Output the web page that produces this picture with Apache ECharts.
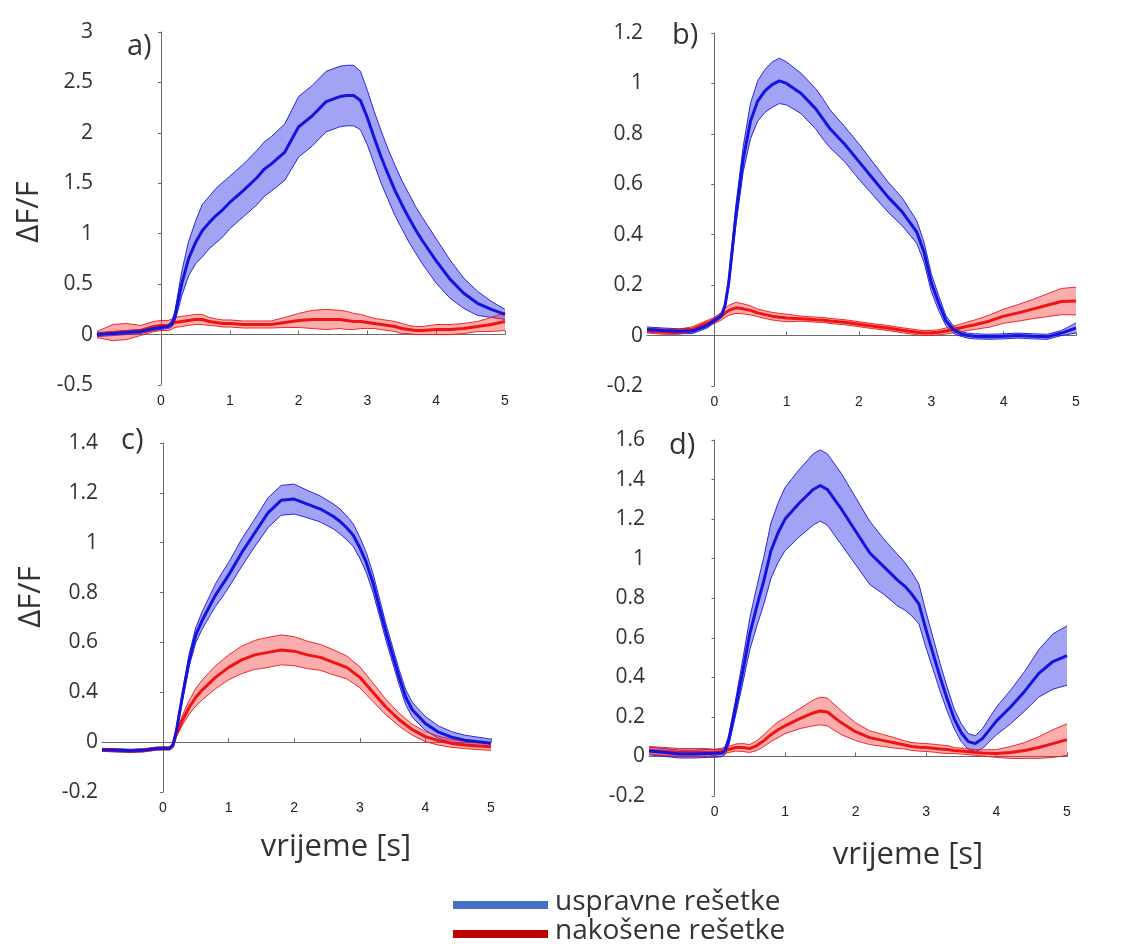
<!DOCTYPE html>
<html>
<head>
<meta charset="utf-8">
<script src="https://cdn.jsdelivr.net/npm/echarts@6/dist/echarts.min.js"></script>
<style>
html,body{margin:0;padding:0;background:#fff;}
#chart{width:1125px;height:944px;}
</style>
</head>
<body>
<div id="chart"></div>
<script>
// time samples [s]
const T = [-0.93,-0.7,-0.5,-0.3,-0.1,0,0.1,0.15,0.2,0.3,0.4,0.5,0.6,0.7,0.8,0.9,1.0,1.2,1.4,1.5,1.6,1.8,2.0,2.2,2.4,2.6,2.7,2.8,2.9,3.0,3.1,3.2,3.3,3.4,3.5,3.6,3.7,3.8,4.0,4.2,4.4,4.6,4.8,5.0];
const xTicks = [0,1,2,3,4,5];

// panel a
const aBlueMean = [0.0,0.01,0.02,0.03,0.06,0.07,0.08,0.1,0.17,0.5,0.75,0.91,1.03,1.11,1.18,1.24,1.31,1.43,1.56,1.64,1.69,1.81,2.06,2.17,2.31,2.36,2.37,2.37,2.32,2.15,1.95,1.76,1.59,1.43,1.29,1.16,1.04,0.93,0.73,0.55,0.41,0.31,0.25,0.2];
const aBlueErr  = [0.02,0.02,0.02,0.02,0.02,0.02,0.02,0.03,0.05,0.12,0.17,0.21,0.26,0.26,0.27,0.27,0.26,0.26,0.27,0.27,0.27,0.28,0.3,0.3,0.3,0.3,0.3,0.3,0.29,0.27,0.26,0.26,0.25,0.25,0.24,0.24,0.23,0.23,0.22,0.19,0.15,0.12,0.08,0.05];
const aRedMean  = [0.0,0.02,0.03,0.04,0.08,0.09,0.09,0.1,0.12,0.13,0.14,0.15,0.15,0.13,0.12,0.11,0.11,0.1,0.1,0.1,0.1,0.12,0.14,0.15,0.15,0.15,0.14,0.13,0.13,0.12,0.11,0.1,0.09,0.08,0.06,0.05,0.04,0.04,0.05,0.05,0.06,0.08,0.1,0.13];
const aRedErr   = [0.03,0.08,0.08,0.05,0.05,0.05,0.05,0.05,0.05,0.05,0.05,0.05,0.05,0.04,0.035,0.035,0.035,0.035,0.035,0.035,0.035,0.05,0.07,0.09,0.1,0.09,0.09,0.08,0.07,0.06,0.05,0.05,0.05,0.05,0.05,0.04,0.04,0.04,0.05,0.05,0.05,0.05,0.07,0.09];

// panel b
const bBlueMean = [0.024,0.02,0.017,0.018,0.04,0.06,0.08,0.12,0.21,0.48,0.7,0.85,0.93,0.97,0.995,1.01,1.0,0.96,0.9,0.86,0.82,0.76,0.69,0.62,0.55,0.49,0.45,0.41,0.33,0.21,0.13,0.06,0.025,0.008,0.0,-0.003,-0.004,-0.005,-0.003,0.0,-0.003,-0.005,0.01,0.03];
const bBlueErr  = [0.01,0.01,0.01,0.01,0.01,0.01,0.01,0.01,0.02,0.04,0.05,0.07,0.08,0.085,0.09,0.09,0.085,0.08,0.08,0.08,0.075,0.07,0.07,0.065,0.06,0.055,0.05,0.045,0.04,0.035,0.03,0.02,0.015,0.01,0.01,0.01,0.01,0.01,0.01,0.01,0.01,0.01,0.01,0.02];
const bRedMean  = [0.02,0.015,0.015,0.025,0.05,0.06,0.077,0.09,0.1,0.11,0.106,0.1,0.09,0.083,0.077,0.073,0.07,0.067,0.063,0.062,0.058,0.053,0.045,0.037,0.03,0.021,0.017,0.013,0.01,0.011,0.013,0.018,0.024,0.03,0.037,0.043,0.05,0.057,0.077,0.09,0.105,0.12,0.135,0.137];
const bRedErr   = [0.01,0.01,0.01,0.01,0.01,0.012,0.015,0.018,0.02,0.022,0.02,0.018,0.015,0.015,0.015,0.015,0.015,0.01,0.01,0.01,0.01,0.01,0.01,0.01,0.01,0.01,0.01,0.01,0.01,0.01,0.01,0.012,0.013,0.015,0.017,0.019,0.021,0.024,0.028,0.033,0.038,0.045,0.052,0.055];

// panel c (axis tick labels as printed in the original figure)
const cTickLabels = ["-0.2","0","0.4","0.6","0.8","1","1.2","1.4"];
const cBlueMean = [-0.031,-0.033,-0.035,-0.033,-0.026,-0.025,-0.025,-0.012,0.04,0.19,0.33,0.43,0.49,0.54,0.59,0.63,0.67,0.76,0.84,0.88,0.92,0.97,0.975,0.955,0.935,0.905,0.885,0.86,0.83,0.78,0.72,0.64,0.54,0.44,0.35,0.26,0.18,0.13,0.075,0.04,0.02,0.008,0.002,-0.004];
const cBlueErr  = [0.006,0.006,0.006,0.006,0.006,0.006,0.006,0.008,0.012,0.02,0.025,0.03,0.035,0.04,0.045,0.05,0.05,0.055,0.055,0.058,0.06,0.06,0.06,0.055,0.052,0.05,0.05,0.048,0.045,0.042,0.04,0.038,0.035,0.033,0.032,0.03,0.03,0.03,0.028,0.025,0.022,0.02,0.018,0.016];
const cRedMean  = [-0.031,-0.033,-0.035,-0.033,-0.026,-0.025,-0.025,-0.015,0.03,0.09,0.14,0.18,0.21,0.235,0.26,0.28,0.3,0.33,0.35,0.355,0.36,0.37,0.365,0.35,0.34,0.32,0.31,0.3,0.28,0.26,0.23,0.2,0.17,0.14,0.115,0.09,0.07,0.05,0.022,0.006,-0.005,-0.011,-0.015,-0.018];
const cRedErr   = [0.006,0.006,0.006,0.006,0.006,0.006,0.006,0.008,0.01,0.02,0.028,0.035,0.04,0.043,0.046,0.048,0.05,0.055,0.058,0.06,0.06,0.06,0.058,0.055,0.052,0.05,0.048,0.046,0.044,0.042,0.04,0.037,0.034,0.031,0.028,0.026,0.024,0.022,0.02,0.018,0.016,0.015,0.015,0.015];

// panel d
const dBlueMean = [0.028,0.02,0.012,0.012,0.015,0.016,0.018,0.03,0.08,0.25,0.43,0.62,0.76,0.89,1.04,1.13,1.2,1.28,1.35,1.37,1.35,1.25,1.14,1.03,0.96,0.89,0.86,0.82,0.77,0.64,0.52,0.4,0.29,0.19,0.12,0.075,0.065,0.09,0.18,0.25,0.33,0.42,0.48,0.51];
const dBlueErr  = [0.02,0.02,0.02,0.02,0.02,0.02,0.02,0.02,0.025,0.04,0.06,0.08,0.1,0.12,0.14,0.15,0.16,0.17,0.18,0.18,0.18,0.18,0.17,0.16,0.14,0.13,0.12,0.11,0.1,0.09,0.08,0.07,0.06,0.05,0.045,0.04,0.04,0.05,0.07,0.085,0.1,0.12,0.14,0.15];
const dRedMean  = [0.03,0.025,0.02,0.02,0.02,0.02,0.025,0.03,0.035,0.045,0.045,0.04,0.055,0.08,0.11,0.135,0.155,0.19,0.22,0.23,0.225,0.17,0.125,0.095,0.08,0.065,0.058,0.05,0.047,0.045,0.042,0.038,0.035,0.03,0.027,0.024,0.02,0.018,0.015,0.02,0.03,0.045,0.065,0.085];
const dRedErr   = [0.02,0.02,0.02,0.02,0.02,0.015,0.015,0.015,0.015,0.018,0.02,0.02,0.025,0.03,0.035,0.04,0.04,0.05,0.065,0.07,0.07,0.06,0.045,0.035,0.03,0.025,0.02,0.02,0.02,0.02,0.02,0.02,0.02,0.015,0.015,0.015,0.015,0.015,0.02,0.03,0.04,0.055,0.07,0.08];

const BLUE = '#1414dc', BLUE_FILL = 'rgba(50,50,235,0.45)';
const RED = '#ee1414', RED_FILL = 'rgba(245,50,50,0.40)';

function band(gi, mean, err, line, fill, z) {
  const lo = T.map((t, i) => +(mean[i] - err[i]).toFixed(4));
  const up = T.map((t, i) => +(mean[i] + err[i]).toFixed(4));
  const area = {
    type: 'custom', xAxisIndex: gi, yAxisIndex: gi, silent: true, z: z,
    data: T.map((t, i) => [t, lo[i], up[i]]),
    encode: { x: 0, y: [1, 2] },
    renderItem: function (params, api) {
      if (params.dataIndexInside !== 0) return null;
      const n = params.dataInsideLength;
      const pts = [];
      for (let k = 0; k < n; k++) pts.push(api.coord([api.value(0, k), api.value(2, k)]));
      for (let k = n - 1; k >= 0; k--) pts.push(api.coord([api.value(0, k), api.value(1, k)]));
      return { type: 'polygon', shape: { points: pts }, style: { fill: fill } };
    }
  };
  const edge = (arr) => ({
    type: 'line', xAxisIndex: gi, yAxisIndex: gi, data: T.map((t, i) => [t, arr[i]]),
    symbol: 'none', silent: true, z: z, lineStyle: { color: line, width: 0.9 }
  });
  return [area, edge(lo), edge(up)];
}
function meanLine(gi, mean, color, z) {
  return { type: 'line', xAxisIndex: gi, yAxisIndex: gi, data: T.map((t, i) => [t, mean[i]]),
    symbol: 'none', silent: true, z: z, lineStyle: { color: color, width: 3 } };
}

const grids = [
  { left: 97, top: 32, width: 408, height: 353 },
  { left: 647, top: 33, width: 429, height: 353 },
  { left: 102, top: 443, width: 389, height: 349 },
  { left: 649, top: 440, width: 418, height: 356 }
];
const yRanges = [
  { min: -0.5, max: 3, interval: 0.5 },
  { min: -0.2, max: 1.2, interval: 0.2 },
  { min: -0.2, max: 1.2, interval: 0.2 },
  { min: -0.2, max: 1.6, interval: 0.2 }
];

const axisLineStyle = { show: true, lineStyle: { color: '#6a6a6a', width: 1 } };
const xAxes = grids.map((g, i) => ({
  type: 'value', gridIndex: i, min: -0.93, max: 5,
  axisLine: axisLineStyle,
  axisTick: { show: true, inside: true, length: 4, customValues: xTicks, lineStyle: { color: '#6a6a6a' } },
  axisLabel: { customValues: xTicks, color: '#222', fontSize: 14, fontFamily: 'Liberation Sans', margin: 9 },
  splitLine: { show: false }
}));
const yAxes = yRanges.map((r, i) => ({
  type: 'value', gridIndex: i, min: r.min, max: r.max, interval: r.interval,
  axisLine: axisLineStyle,
  axisTick: { show: true, length: 3, lineStyle: { color: '#6a6a6a' } },
  axisLabel: {
    color: '#333', fontSize: 21, fontFamily: 'Open Sans', margin: 4,
    formatter: i === 2 ? (v) => cTickLabels[Math.round((v - r.min) / r.interval)] : undefined
  },
  splitLine: { show: false }
}));

const series = [].concat(
  band(0, aBlueMean, aBlueErr, BLUE, BLUE_FILL, 2), band(0, aRedMean, aRedErr, RED, RED_FILL, 3),
  [meanLine(0, aRedMean, RED, 4), meanLine(0, aBlueMean, BLUE, 5)],
  band(1, bBlueMean, bBlueErr, BLUE, BLUE_FILL, 2), band(1, bRedMean, bRedErr, RED, RED_FILL, 3),
  [meanLine(1, bRedMean, RED, 4), meanLine(1, bBlueMean, BLUE, 5)],
  band(2, cBlueMean, cBlueErr, BLUE, BLUE_FILL, 2), band(2, cRedMean, cRedErr, RED, RED_FILL, 3),
  [meanLine(2, cRedMean, RED, 4), meanLine(2, cBlueMean, BLUE, 5)],
  band(3, dBlueMean, dBlueErr, BLUE, BLUE_FILL, 2), band(3, dRedMean, dRedErr, RED, RED_FILL, 3),
  [meanLine(3, dRedMean, RED, 4), meanLine(3, dBlueMean, BLUE, 5)]
);

const txt = (x, y, s, size) => ({
  type: 'text', x: x, y: y,
  style: { text: s, font: size + 'px "Open Sans"', fill: '#333', align: 'left', verticalAlign: 'middle' }
});
const ctxt = (x, y, s, size, rot) => ({
  type: 'text', x: x, y: y, rotation: rot || 0,
  style: { text: s, font: size + 'px "Open Sans"', fill: '#333', align: 'center', verticalAlign: 'middle' }
});

const graphic = [
  txt(127, 47, 'a)', 29), txt(672, 36, 'b)', 29), txt(121, 441, 'c)', 29), txt(669, 446, 'd)', 29),
  ctxt(29, 212, 'ΔF/F', 31, Math.PI / 2),
  ctxt(31, 597, 'ΔF/F', 31, Math.PI / 2),
  ctxt(336, 847, 'vrijeme [s]', 31),
  ctxt(908, 855, 'vrijeme [s]', 31),
  { type: 'rect', shape: { x: 453, y: 901, width: 95, height: 8 }, style: { fill: '#4472C4' } },
  { type: 'rect', shape: { x: 453, y: 930, width: 95, height: 8 }, style: { fill: '#C00000' } },
  txt(555, 902, 'uspravne rešetke', 28),
  txt(555, 931, 'nakošene rešetke', 28)
];

const chart = echarts.init(document.getElementById('chart'), null, { renderer: 'canvas' });
chart.setOption({
  animation: false,
  backgroundColor: '#fff',
  grid: grids,
  xAxis: xAxes,
  yAxis: yAxes,
  series: series,
  graphic: graphic
});
</script>
</body>
</html>
